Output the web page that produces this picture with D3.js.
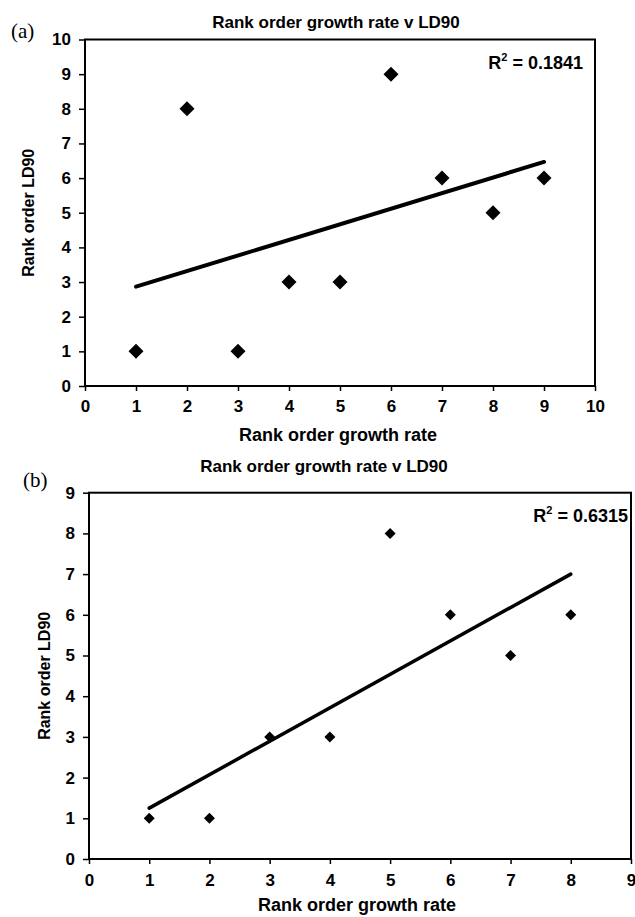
<!DOCTYPE html>
<html>
<head>
<meta charset="utf-8">
<script src="https://cdn.jsdelivr.net/npm/d3@7"></script>
<style>
  body { margin: 0; background: #fff; }
  svg { display: block; }
</style>
</head>
<body>
<div id="chart"></div>
<script>
// panel (a)
const growthA = [1, 2, 3, 4, 5, 6, 7, 8, 9];
const ld90A = [1, 8, 1, 3, 3, 9, 6, 5, 6];
const ticksA = [0, 1, 2, 3, 4, 5, 6, 7, 8, 9, 10];

// panel (b)
const growthB = [1, 2, 3, 4, 5, 6, 7, 8];
const ld90B = [1, 1, 3, 3, 8, 6, 5, 6];
const ticksB = [0, 1, 2, 3, 4, 5, 6, 7, 8, 9];

const titleText = "Rank order growth rate v LD90";
const xTitle = "Rank order growth rate";
const yTitle = "Rank order LD90";

const svg = d3.select("#chart")
              .append("svg")
              .attr("width", 635)
              .attr("height", 917);

const font = "'Liberation Sans', Arial, Helvetica, sans-serif";

// least squares fit, same as the Excel trendline
const fit = (xs, ys) => {
    const mx = d3.mean(xs), my = d3.mean(ys);
    let sxy = 0, sxx = 0, syy = 0;
    xs.forEach((x, i) => {
        sxy += (x - mx) * (ys[i] - my);
        sxx += (x - mx) ** 2;
        syy += (ys[i] - my) ** 2;
    });
    const slope = sxy / sxx;
    return { slope, intercept: my - slope * mx, r2: (sxy * sxy) / (sxx * syy) };
};

const drawPanel = p => {
    const xScale = d3.scaleLinear()
                     .domain(d3.extent(p.ticks))
                     .range([p.left, p.right]);
    const yScale = d3.scaleLinear()
                     .domain(d3.extent(p.ticks))
                     .range([p.bottom, p.top]);

    const g = svg.append("g");

    // y axis
    const yAxis = g.append("g")
                   .attr("transform", `translate(${p.left},0)`)
                   .call(d3.axisLeft(yScale).tickValues(p.ticks).tickFormat(d3.format("d"))
                           .tickSize(6).tickSizeOuter(0).tickPadding(p.yPad));
    // x axis
    const xAxis = g.append("g")
                   .attr("transform", `translate(0,${p.bottom})`)
                   .call(d3.axisBottom(xScale).tickValues(p.ticks).tickFormat(d3.format("d"))
                           .tickSize(5).tickSizeOuter(0).tickPadding(p.xPad));

    [yAxis, xAxis].forEach(a => {
        a.select(".domain").remove();
        a.selectAll("line").attr("stroke", "#000").attr("stroke-width", 1.5);
        a.selectAll("text")
         .style("font-family", font)
         .style("font-size", "17px")
         .style("font-weight", "bold")
         .attr("fill", "#000");
    });

    // plot frame
    g.append("rect")
     .attr("x", p.left)
     .attr("y", p.top)
     .attr("width", p.right - p.left)
     .attr("height", p.bottom - p.top)
     .attr("fill", "none")
     .attr("stroke", "#000")
     .attr("stroke-width", 2);

    // trendline
    const f = fit(p.xs, p.ys);
    const [x0, x1] = d3.extent(p.xs);
    g.append("line")
     .attr("x1", xScale(x0))
     .attr("y1", yScale(f.intercept + f.slope * x0))
     .attr("x2", xScale(x1))
     .attr("y2", yScale(f.intercept + f.slope * x1))
     .attr("stroke", "#000")
     .attr("stroke-width", p.lineWidth)
     .attr("stroke-linecap", "round");

    // diamonds
    const s = p.markSize / 2;
    g.selectAll("path.pt")
     .data(p.xs.map((x, i) => ({ x, y: p.ys[i] })))
     .join("path")
     .attr("class", "pt")
     .attr("d", `M0,${-s}L${s},0L0,${s}L${-s},0Z`)
     .attr("transform", d => `translate(${xScale(d.x)},${yScale(d.y)})`)
     .attr("fill", "#000");

    // R squared label
    const r2 = g.append("text")
                .attr("x", p.right - p.r2Inset)
                .attr("y", p.top + p.r2Dy)
                .attr("text-anchor", "end")
                .style("font-family", font)
                .style("font-size", "18px")
                .style("font-weight", "bold");
    r2.append("tspan").text("R");
    r2.append("tspan").text("2").attr("dy", -8).style("font-size", "11px");
    r2.append("tspan").text(" = " + f.r2.toFixed(4)).attr("dy", 8);

    // chart title
    g.append("text")
     .text(titleText)
     .attr("x", p.titleX)
     .attr("y", p.titleY)
     .attr("text-anchor", "middle")
     .style("font-family", font)
     .style("font-size", "17px")
     .style("font-weight", "bold");

    // axis titles
    g.append("text")
     .text(xTitle)
     .attr("x", p.xTitleX)
     .attr("y", p.xTitleY)
     .attr("text-anchor", "middle")
     .style("font-family", font)
     .style("font-size", "18px")
     .style("font-weight", "bold");

    g.append("text")
     .text(yTitle)
     .attr("transform", `translate(${p.yTitleX},${(p.top + p.bottom) / 2}) rotate(-90)`)
     .attr("text-anchor", "middle")
     .style("font-family", font)
     .style("font-size", "16px")
     .style("font-weight", "bold");

    // panel letter
    g.append("text")
     .text(p.letter)
     .attr("x", p.letterX)
     .attr("y", p.letterY)
     .style("font-family", "'Liberation Serif', 'Times New Roman', serif")
     .style("font-size", "21px");
};

drawPanel({
    xs: growthA, ys: ld90A, ticks: ticksA,
    left: 85, right: 595, top: 39.5, bottom: 386,
    yPad: 8, xPad: 9, lineWidth: 4, markSize: 15,
    r2Inset: 12, r2Dy: 29,
    titleX: 336, titleY: 28, xTitleX: 338, xTitleY: 441, yTitleX: 34,
    letter: "(a)", letterX: 11, letterY: 38
});

drawPanel({
    xs: growthB, ys: ld90B, ticks: ticksB,
    left: 89, right: 631, top: 492.7, bottom: 859,
    yPad: 8, xPad: 10, lineWidth: 3.5, markSize: 11,
    r2Inset: 3, r2Dy: 29,
    titleX: 324, titleY: 472, xTitleX: 357, xTitleY: 911, yTitleX: 50,
    letter: "(b)", letterX: 23, letterY: 487
});
</script>
</body>
</html>
